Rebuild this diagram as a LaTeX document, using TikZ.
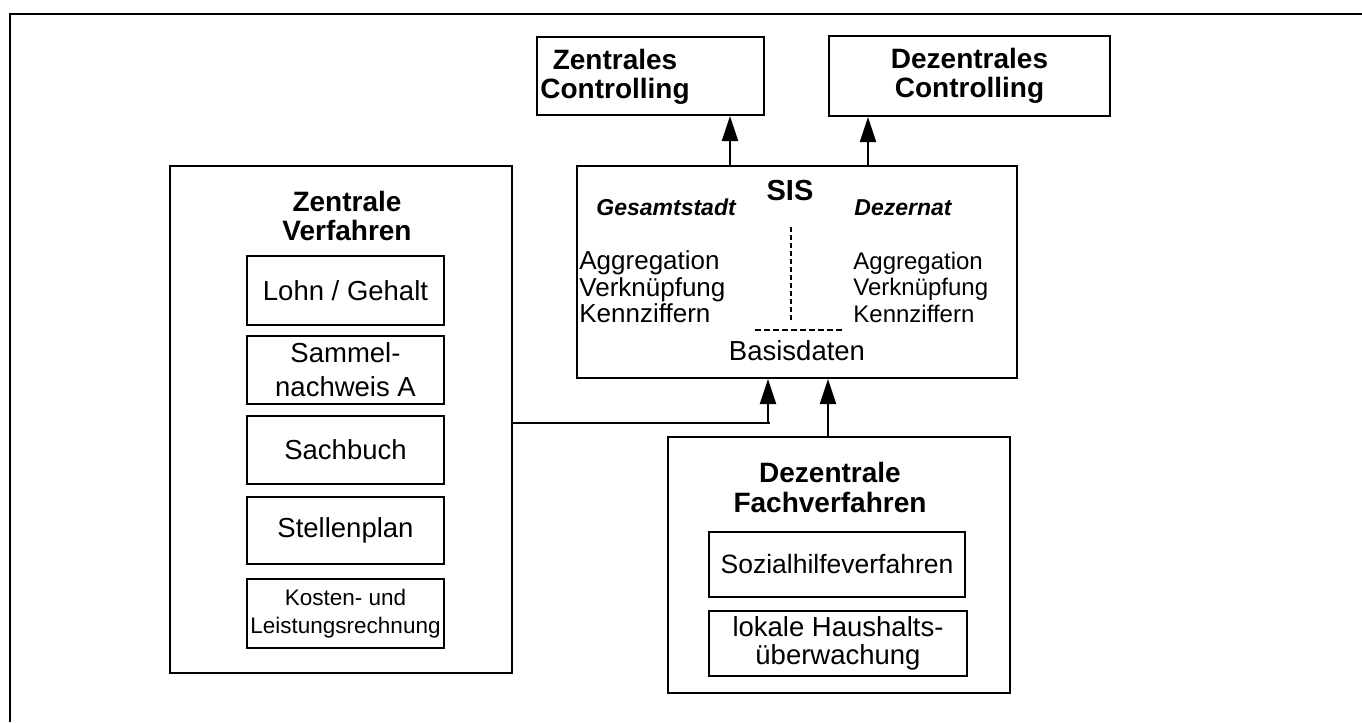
\documentclass[tikz,border=0pt]{standalone}
\usepackage{fontspec}
\setmainfont{Liberation Sans}
\usetikzlibrary{fit,arrows.meta}
\begin{document}
\begin{tikzpicture}[x=0.5bp,y=-0.5bp,
  box/.style={draw, line width=1bp, inner sep=0pt, align=center},
  bx/.style 2 args={box, minimum width=#1*0.5bp, minimum height=#2*0.5bp},
  ttl/.style={inner sep=0pt, align=center, font=\fontsize{14bp}{14.5bp}\selectfont\bfseries},
  txt/.style={font=\fontsize{13.75bp}{14.5bp}\selectfont},
  lst/.style={inner sep=0pt, align=left, anchor=west},
  arr/.style={line width=1bp, -{Triangle[length=12.5bp,width=8bp]}},
  lnk/.style={line width=1bp},
  dsh/.style={line width=0.8bp, dash pattern=on 2.5bp off 1.5bp}]
\useasboundingbox (0,0) rectangle (1362,722);

% open frame: top and left edges only
\draw[line width=0.9bp] (1362,14) -- (10,14) -- (10,722);

% controlling level
\node[box, fit={(537,37) (764,115)}] (zc) {};
\node[ttl] (zct) at (615,77) {Zentrales\\Controlling};
\node[bx={281}{80}, ttl] (dc) at (969.5,76) {Dezentrales\\Controlling};

% SIS
\node[box, fit={(577,166) (1017,378)}] (sis) {};
\node[anchor=base, inner sep=0pt, font=\fontsize{14.5bp}{14.5bp}\selectfont\bfseries] (sist) at (790,200) {SIS};
\node[anchor=base west, inner sep=0pt, font=\fontsize{11.5bp}{12bp}\selectfont\bfseries\itshape] (ges) at (596,215) {Gesamtstadt};
\node[anchor=base west, inner sep=0pt, font=\fontsize{11.5bp}{12bp}\selectfont\bfseries\itshape] (dez) at (854,215) {Dezernat};
\node[lst, font=\fontsize{13bp}{13.25bp}\selectfont] (lstl) at (579,287) {Aggregation\\Verknüpfung\\Kennziffern};
\node[lst, font=\fontsize{12bp}{13.25bp}\selectfont] (lstr) at (853,287) {Aggregation\\Verknüpfung\\Kennziffern};
\draw[dsh] (791,227) -- (791,320);
\draw[dsh, dash pattern=on 3bp off 1.5bp] (755,330) -- (842,330);
\node[anchor=base, inner sep=0pt, txt] (basis) at (797,360) {Basisdaten};

% central procedures
\node[box, fit={(170,166) (512,673)}] (zv) {};
\node[ttl] (zvt) at (347,216) {Zentrale\\Verfahren};
\node[bx={197}{69}, txt] (lohn) at (345.5,290.5) {Lohn / Gehalt};
\node[bx={197}{68}, font=\fontsize{13.75bp}{17bp}\selectfont] (sammel) at (345.5,370) {Sammel-\\nachweis A};
\node[bx={197}{68}, txt] (sach) at (345.5,450) {Sachbuch};
\node[bx={197}{67}, txt] (stellen) at (345.5,530.5) {Stellenplan};
\node[bx={197}{69}, font=\fontsize{11.25bp}{14bp}\selectfont] (klr) at (345.5,613.5) {Kosten- und\\Leistungsrechnung};

% decentral procedures
\node[box, fit={(668,437) (1010,693)}] (dfv) {};
\node[ttl, font=\fontsize{14bp}{15bp}\selectfont\bfseries] (dfvt) at (830,487) {Dezentrale\\Fachverfahren};
\node[bx={256}{65}, font=\fontsize{13.25bp}{14bp}\selectfont] (sozial) at (837,564.5) {Sozialhilfeverfahren};
\node[bx={258}{65}, font=\fontsize{13.75bp}{14bp}\selectfont] (lokal) at (838,643.5) {lokale Haushalts-\\überwachung};

% connectors
\coordinate (a1) at (730,0);
\coordinate (a2) at (868,0);
\coordinate (j) at (768,423);
\coordinate (a4) at (828,0);
\draw[arr] (a1 |- sis.north) -- (a1 |- zc.south);
\draw[arr] (a2 |- sis.north) -- (a2 |- dc.south);
\draw[lnk] (zv.east |- j) -- ([xshift=1bp]j);
\draw[arr] (j) -- (j |- sis.south);
\draw[arr] (a4 |- dfv.north) -- (a4 |- sis.south);
\end{tikzpicture}
\end{document}
